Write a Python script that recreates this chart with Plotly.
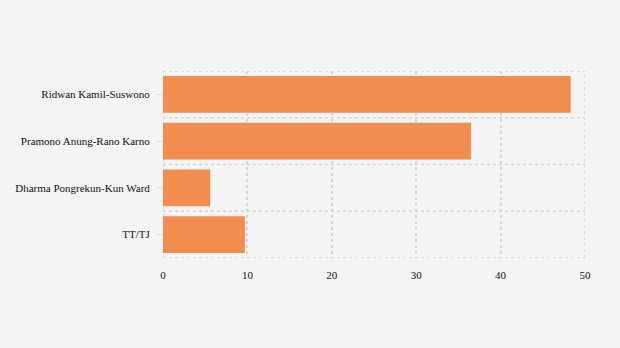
import plotly.graph_objects as go

# Vote share by candidate pair (%)
candidates = [
    "Ridwan Kamil-Suswono",
    "Pramono Anung-Rano Karno",
    "Dharma Pongrekun-Kun Ward",
    "TT/TJ",
]
shares = [48.3, 36.5, 5.6, 9.7]
x_ticks = [0, 10, 20, 30, 40, 50]

BG = "#f4f4f4"
BAR = "#f28c4f"
GRID = "#d6d6d6"

fig = go.Figure(
    go.Bar(
        x=shares,
        y=candidates,
        orientation="h",
        marker=dict(color=BAR, line=dict(width=0)),
        width=0.79,
        hoverinfo="x+y",
    )
)

# dotted separators between category bands
shapes = []
for b in [-0.5, 0.5, 1.5, 2.5, 3.5]:
    shapes.append(
        dict(
            type="line", xref="paper", yref="y",
            x0=0, x1=1, y0=b, y1=b,
            line=dict(color=GRID, width=1.5, dash="dot"),
            layer="below",
        )
    )
# dotted frame lines at the ends of the value range
for v in [x_ticks[0], x_ticks[-1]]:
    shapes.append(
        dict(
            type="line", xref="x", yref="paper",
            x0=v, x1=v, y0=0, y1=1,
            line=dict(color=GRID, width=1.5, dash="dot"),
            layer="below",
        )
    )

fig.update_layout(
    width=620,
    height=348,
    margin=dict(l=163, r=35, t=71, b=90),
    paper_bgcolor=BG,
    plot_bgcolor=BG,
    font=dict(family="Times New Roman, serif", size=11, color="#111111"),
    showlegend=False,
    shapes=shapes,
    xaxis=dict(
        range=[0, 50],
        tickvals=x_ticks,
        showgrid=True,
        gridcolor=GRID,
        griddash="dot",
        gridwidth=1.5,
        zeroline=False,
        showline=False,
        ticks="",
        ticklabelstandoff=9,
        fixedrange=True,
    ),
    yaxis=dict(
        categoryorder="array",
        categoryarray=candidates[::-1],
        range=[-0.5, 3.5],
        showgrid=False,
        zeroline=False,
        showline=False,
        ticks="outside",
        ticklen=5,
        tickcolor="#dcdcdc",
        ticklabelstandoff=5,
        fixedrange=True,
    ),
)

fig.write_html("out.html")
